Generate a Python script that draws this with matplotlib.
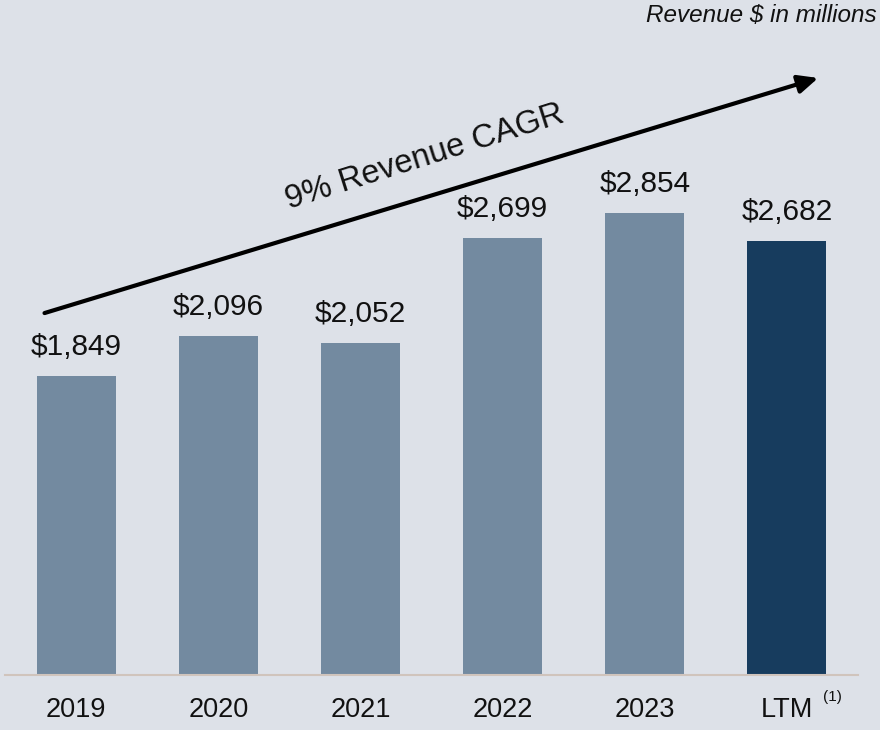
import matplotlib.pyplot as plt

# revenue by period, $ millions
periods = ['2019', '2020', '2021', '2022', '2023', 'LTM']
revenue = [1849, 2096, 2052, 2699, 2854, 2682]
value_labels = ['$1,849', '$2,096', '$2,052', '$2,699', '$2,854', '$2,682']

BG = '#dde1e8'
BAR = '#738aa0'
LTM_BAR = '#173c5e'

plt.rcParams['font.family'] = ['Liberation Sans', 'DejaVu Sans']

fig = plt.figure(figsize=(8.8, 7.3), dpi=100, facecolor=BG)
ax = fig.add_axes([5 / 880, 55 / 730, 853 / 880, 675 / 730])
ax.set_facecolor(BG)

x = list(range(len(periods)))
colors = [BAR] * (len(periods) - 1) + [LTM_BAR]
bars = ax.bar(x, revenue, width=0.556, color=colors)

for xi, v, lab in zip(x, revenue, value_labels):
    ax.annotate(lab, (xi, v), xytext=(0, 11), textcoords='offset points',
                ha='center', va='bottom', fontsize=21.5, color='#111111')

ax.set_xlim(-0.5, 5.5)
ax.set_ylim(0, 4172)
ax.set_xticks(x)
ax.set_xticklabels(periods, fontsize=19.5, color='#111111')
ax.tick_params(axis='x', length=0, pad=16)
ax.set_yticks([])
for s in ['top', 'right', 'left']:
    ax.spines[s].set_visible(False)
ax.spines['bottom'].set_color('#d0c4bc')
ax.spines['bottom'].set_linewidth(1.5)

# footnote marker on LTM
ax.text(5.32, -0.032, '(1)', transform=ax.get_xaxis_transform(),
        fontsize=11, ha='center', va='center', color='#111111')

# CAGR arrow
ax.annotate('', xy=(5.22, 3690), xytext=(-0.222, 2237),
            arrowprops=dict(arrowstyle='-|>,head_length=1.2,head_width=0.55',
                            lw=3, color='black', shrinkA=0, shrinkB=0))
ax.text(2.45, 3200, '9% Revenue CAGR', rotation=17.5, rotation_mode='anchor',
        ha='center', va='center', fontsize=23.5, color='#111111')

fig.text(877 / 880, 1 - 16 / 730, 'Revenue $ in millions', ha='right', va='center',
         fontsize=17.5, style='italic', color='#111111')

fig.savefig('out.png', dpi=100, facecolor=BG)
